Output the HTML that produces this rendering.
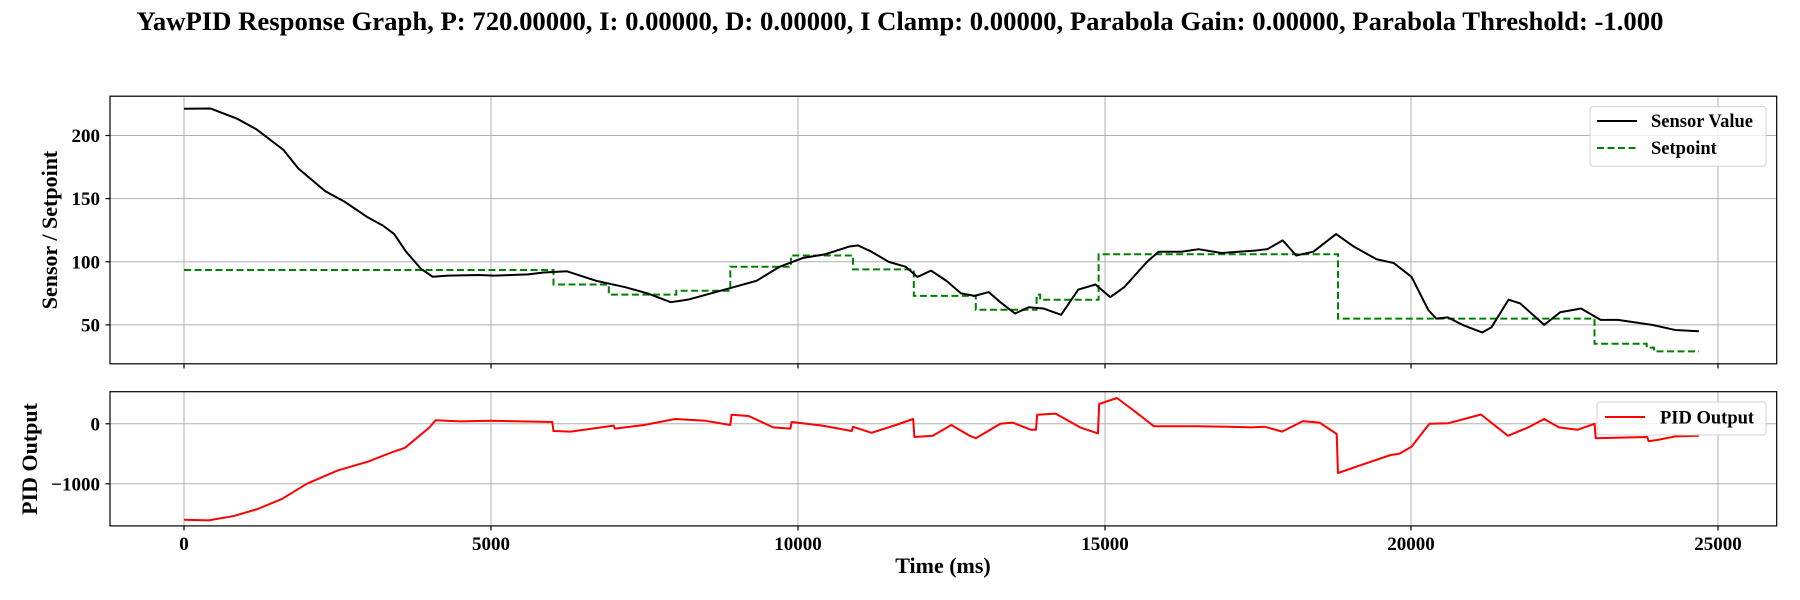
<!DOCTYPE html>
<html><head><meta charset="utf-8"><style>
html,body{margin:0;padding:0;background:#fff;}
svg{display:block;font-family:"Liberation Serif",serif;font-weight:bold;}
</style></head><body>
<svg width="1800" height="600" viewBox="0 0 1800 600" xmlns="http://www.w3.org/2000/svg">
<rect width="1800" height="600" fill="#fff"/>
<text x="900" y="30" font-size="26.7" text-anchor="middle">YawPID Response Graph, P: 720.00000, I: 0.00000, D: 0.00000, I Clamp: 0.00000, Parabola Gain: 0.00000, Parabola Threshold: -1.000</text>

<!-- TOP PANEL -->
<g stroke="#b0b0b0" stroke-width="1">
<line x1="184" y1="96" x2="184" y2="364"/><line x1="491" y1="96" x2="491" y2="364"/><line x1="798" y1="96" x2="798" y2="364"/><line x1="1105" y1="96" x2="1105" y2="364"/><line x1="1411" y1="96" x2="1411" y2="364"/><line x1="1718" y1="96" x2="1718" y2="364"/>
<line x1="110" y1="135.5" x2="1777" y2="135.5"/><line x1="110" y1="198.6" x2="1777" y2="198.6"/><line x1="110" y1="261.8" x2="1777" y2="261.8"/><line x1="110" y1="324.9" x2="1777" y2="324.9"/>
</g>
<polyline fill="none" stroke="#008000" stroke-width="2" stroke-dasharray="7,3.5" points="184,270 553.5,270 553.5,284.5 608.8,284.5 608.8,294.6 676.3,294.6 676.3,290.8 730.3,290.8 730.3,266.8 791,266.8 791,255.5 853,255.5 853,269.4 913.8,269.4 913.8,295.9 975.8,295.9 975.8,309.8 1036.6,309.8 1036.6,294.6 1040.2,294.6 1040.2,299.7 1098.6,299.7 1098.6,254.2 1338,254.2 1338,318.6 1594.5,318.6 1594.5,343.8 1646.7,343.8 1646.7,347.6 1654,347.6 1654,351.4 1699,351.4"/>
<g transform="translate(184,388) scale(0.06138,-1.262)">
<polyline fill="none" stroke="#000" stroke-width="2" vector-effect="non-scaling-stroke" stroke-linejoin="round" points="0,221.3 430,221.5 865,213.4 1180,205 1620,188.7 1865,173.8 2300,156 2610,147.8 2985,135.5 3240,128.7 3425,122 3610,108.5 3860,94.5 4050,88.2 4300,89 4800,89.5 5050,89 5610,90 5860,91.5 6240,92.5 6710,85 7180,80 7550,75 7930,68 8210,70 8960,80 9330,85 9700,96 10080,103 10450,106 10830,112 10980,113 11200,108 11480,100 11760,96 11950,88 12170,93 12420,85 12660,75 12880,73 13110,76 13300,68 13540,59 13760,64 14000,63 14290,58 14570,78 14850,82 15090,72 15320,80 15690,100 15880,108 16250,108 16530,110 16900,107 17470,109 17650,110 17900,117 18120,105 18400,108 18770,122 19060,112 19430,102 19710,99 20000,88 20270,62 20400,55 20590,56 20830,50 21150,44 21300,48 21580,70 21770,67 22160,50 22420,60 22760,63 23080,54 23360,54 23920,50 24290,46 24680,45"/>
</g>
<rect x="110" y="96.2" width="1666.7" height="267.6" fill="none" stroke="#000" stroke-width="1.2"/>
<g stroke="#000" stroke-width="1.2">
<line x1="105.5" y1="135.5" x2="110" y2="135.5"/><line x1="105.5" y1="198.6" x2="110" y2="198.6"/><line x1="105.5" y1="261.8" x2="110" y2="261.8"/><line x1="105.5" y1="324.9" x2="110" y2="324.9"/>
<line x1="184" y1="364" x2="184" y2="368.5"/><line x1="491" y1="364" x2="491" y2="368.5"/><line x1="798" y1="364" x2="798" y2="368.5"/><line x1="1105" y1="364" x2="1105" y2="368.5"/><line x1="1411" y1="364" x2="1411" y2="368.5"/><line x1="1718" y1="364" x2="1718" y2="368.5"/>
</g>
<g font-size="19" text-anchor="end">
<text x="100" y="142">200</text><text x="100" y="205">150</text><text x="100" y="268.3">100</text><text x="100" y="331.4">50</text>
</g>
<text transform="translate(57,230) rotate(-90)" font-size="22" text-anchor="middle">Sensor / Setpoint</text>
<rect x="1590" y="106.6" width="176" height="59.5" rx="3" fill="#fff" fill-opacity="0.8" stroke="#d0d0d0" stroke-width="1"/>
<line x1="1597" y1="121" x2="1637" y2="121" stroke="#000" stroke-width="2"/>
<text x="1651" y="127" font-size="18.5">Sensor Value</text>
<line x1="1597" y1="148" x2="1637" y2="148" stroke="#008000" stroke-width="2" stroke-dasharray="7,3.5"/>
<text x="1651" y="154" font-size="18.5">Setpoint</text>

<!-- BOTTOM PANEL -->
<g stroke="#b0b0b0" stroke-width="1">
<line x1="184" y1="392" x2="184" y2="526"/><line x1="491" y1="392" x2="491" y2="526"/><line x1="798" y1="392" x2="798" y2="526"/><line x1="1105" y1="392" x2="1105" y2="526"/><line x1="1411" y1="392" x2="1411" y2="526"/><line x1="1718" y1="392" x2="1718" y2="526"/>
<line x1="110" y1="423.8" x2="1777" y2="423.8"/><line x1="110" y1="483.8" x2="1777" y2="483.8"/>
</g>
<g transform="translate(184,423.8) scale(0.06138,-0.06)">
<polyline fill="none" stroke="#ff0000" stroke-width="2" vector-effect="non-scaling-stroke" stroke-linejoin="round" points="0,-1600 400,-1610 800,-1540 1200,-1420 1600,-1250 2000,-1000 2500,-780 3000,-630 3400,-470 3600,-400 4000,-60 4100,60 4500,40 5000,50 5500,40 6000,30 6020,-120 6300,-130 7000,-30 7020,-80 7100,-70 7500,-20 8000,80 8500,50 8900,-20 8920,150 9200,130 9600,-60 9880,-80 9900,30 10400,-30 10880,-120 10900,-50 11200,-150 11600,-20 11880,80 11900,-220 12200,-200 12500,-20 12800,-200 12900,-240 13300,0 13500,20 13800,-100 13880,-100 13900,150 14200,170 14600,-60 14890,-160 14910,330 15200,430 15500,200 15800,-40 16500,-40 17000,-50 17400,-60 17610,-50 17890,-130 18230,45 18500,20 18780,-170 18800,-820 19200,-680 19660,-520 19800,-500 20000,-380 20290,0 20600,10 21130,155 21570,-200 21900,-60 22160,80 22400,-60 22700,-100 22980,0 23000,-240 23400,-230 23840,-220 23860,-290 24000,-270 24300,-210 24680,-200"/>
</g>
<rect x="110" y="391.7" width="1666.7" height="134.2" fill="none" stroke="#000" stroke-width="1.2"/>
<g stroke="#000" stroke-width="1.2">
<line x1="105.5" y1="423.8" x2="110" y2="423.8"/><line x1="105.5" y1="483.8" x2="110" y2="483.8"/>
<line x1="184" y1="526" x2="184" y2="530.5"/><line x1="491" y1="526" x2="491" y2="530.5"/><line x1="798" y1="526" x2="798" y2="530.5"/><line x1="1105" y1="526" x2="1105" y2="530.5"/><line x1="1411" y1="526" x2="1411" y2="530.5"/><line x1="1718" y1="526" x2="1718" y2="530.5"/>
</g>
<g font-size="19" text-anchor="end">
<text x="100" y="430.3">0</text><text x="100" y="490.3">−1000</text>
</g>
<text transform="translate(37,459) rotate(-90)" font-size="22" text-anchor="middle">PID Output</text>
<g font-size="19" text-anchor="middle">
<text x="184" y="550">0</text><text x="491" y="550">5000</text><text x="798" y="550">10000</text><text x="1105" y="550">15000</text><text x="1411" y="550">20000</text><text x="1718" y="550">25000</text>
</g>
<text x="943" y="573" font-size="22" text-anchor="middle">Time (ms)</text>
<rect x="1597" y="402" width="169" height="33" rx="3" fill="#fff" fill-opacity="0.8" stroke="#d0d0d0" stroke-width="1"/>
<line x1="1605" y1="417" x2="1645" y2="417" stroke="#ff0000" stroke-width="2"/>
<text x="1660" y="423.5" font-size="18.5">PID Output</text>
</svg>
</body></html>
